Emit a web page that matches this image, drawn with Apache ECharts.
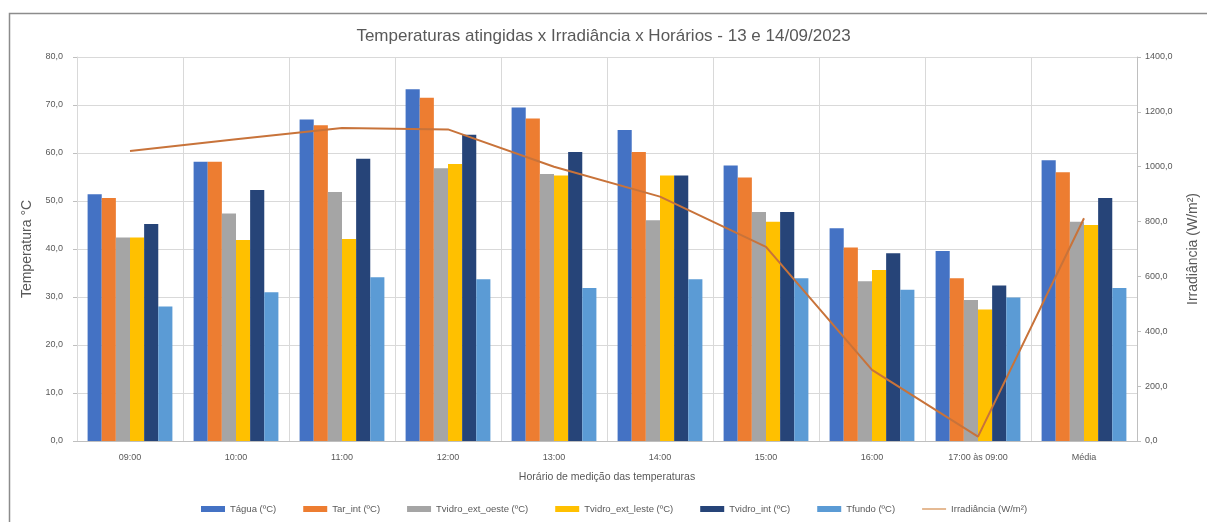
<!DOCTYPE html>
<html><head><meta charset="utf-8">
<script src="https://cdn.jsdelivr.net/npm/echarts@6/dist/echarts.min.js"></script>
<style>html,body{margin:0;padding:0;background:#fff}#c{width:1207px;height:522px}</style>
</head><body><div id="c"></div>
<script>
const categories = ['09:00','10:00','11:00','12:00','13:00','14:00','15:00','16:00','17:00 às 09:00','Média'];
const tagua      = [51.4, 58.2, 67.0, 73.3, 69.5, 64.8, 57.4, 44.3, 39.6, 58.5];
const tarInt     = [50.6, 58.2, 65.8, 71.5, 67.2, 60.2, 54.9, 40.3, 33.9, 56.0];
const tvOeste    = [42.4, 47.4, 51.9, 56.8, 55.6, 46.0, 47.7, 33.3, 29.4, 45.7];
const tvLeste    = [42.4, 41.9, 42.1, 57.7, 55.3, 55.3, 45.7, 35.6, 27.4, 45.0];
const tvInt      = [45.2, 52.3, 58.8, 63.8, 60.2, 55.3, 47.7, 39.1, 32.4, 50.6];
const tfundo     = [28.0, 31.0, 34.1, 33.7, 31.9, 33.7, 33.9, 31.5, 29.9, 31.9];
const irradiancia= [1057, 1100, 1141, 1136, 1000, 891, 708, 259, 16, 812];
const seriesNames = ['Tágua (ºC)','Tar_int (ºC)','Tvidro_ext_oeste (ºC)','Tvidro_ext_leste (ºC)','Tvidro_int (ºC)','Tfundo (ºC)','Irradiância (W/m²)'];
const colors = ['#4472C4','#ED7D31','#A5A5A5','#FFC000','#264478','#5B9BD5','#C8733A'];

const fmt = v => v.toFixed(1).replace('.', ',');
const font = '"Liberation Sans", Arial, sans-serif';
const chart = echarts.init(document.getElementById('c'));
const barData = [tagua, tarInt, tvOeste, tvLeste, tvInt, tfundo];
const series = barData.map((d, i) => ({
  name: seriesNames[i], type: 'bar', data: d, yAxisIndex: 0,
  barGap: '0%', barCategoryGap: '20%', itemStyle: {color: colors[i]}
}));
series.push({name: seriesNames[6], type: 'line', data: irradiancia, yAxisIndex: 1,
  symbol: 'none', lineStyle: {color: colors[6], width: 2}, itemStyle: {color: colors[6]}});
chart.setOption({
  animation: false,
  textStyle: {fontFamily: font},
  title: {text: 'Temperaturas atingidas x Irradiância x Horários - 13 e 14/09/2023', left: 'center', top: 23,
    textStyle: {fontFamily: font, fontSize: 17, fontWeight: 'normal', color: '#595959'}},
  grid: {left: 77, right: 70, top: 57, bottom: 81, outerBoundsMode: 'none', containLabel: false},
  legend: {bottom: 3, left: 196, itemWidth: 24, itemHeight: 6, itemGap: 27,
    textStyle: {fontFamily: font, fontSize: 9.5, color: '#595959'},
    data: seriesNames.map((n, i) => i < 6 ? {name: n, icon: 'rect'} :
      {name: n, icon: 'path://M0,0H28V1.6H0Z', itemStyle: {color: '#D99A63'}})},
  xAxis: {type: 'category', data: categories,
    name: 'Horário de medição das temperaturas', nameLocation: 'middle', nameGap: 31,
    nameTextStyle: {fontFamily: font, fontSize: 10.5, color: '#595959'},
    axisLine: {lineStyle: {color: '#bfbfbf'}}, axisTick: {show: false},
    axisLabel: {fontSize: 9, color: '#595959', margin: 12},
    splitLine: {show: true, lineStyle: {color: '#d9d9d9'}}},
  yAxis: [
    {type: 'value', min: 0, max: 80, interval: 10,
     name: 'Temperatura °C', nameLocation: 'middle', nameGap: 42, nameRotate: 90,
     nameTextStyle: {fontFamily: font, fontSize: 14, color: '#595959'},
     axisLine: {show: true, lineStyle: {color: '#d9d9d9'}}, axisTick: {show: true, length: 4, lineStyle: {color: '#bfbfbf'}},
     axisLabel: {formatter: fmt, fontSize: 9, color: '#595959', margin: 14},
     splitLine: {lineStyle: {color: '#d9d9d9'}}},
    {type: 'value', min: 0, max: 1400, interval: 200, position: 'right',
     name: 'Irradiância (W/m²)', nameLocation: 'middle', nameGap: 49, nameRotate: 90,
     nameTextStyle: {fontFamily: font, fontSize: 14, color: '#595959'},
     axisLine: {show: true, lineStyle: {color: '#bfbfbf'}}, axisTick: {show: true, length: 4, lineStyle: {color: '#bfbfbf'}},
     axisLabel: {formatter: fmt, fontSize: 9, color: '#595959', margin: 8},
     splitLine: {show: false}}
  ],
  graphic: [{type: 'rect', shape: {x: 9.5, y: 13.5, width: 1220, height: 540}, style: {fill: 'none', stroke: '#8c8c8c', lineWidth: 1.5}, silent: true}],
  series: series
});
</script></body></html>
